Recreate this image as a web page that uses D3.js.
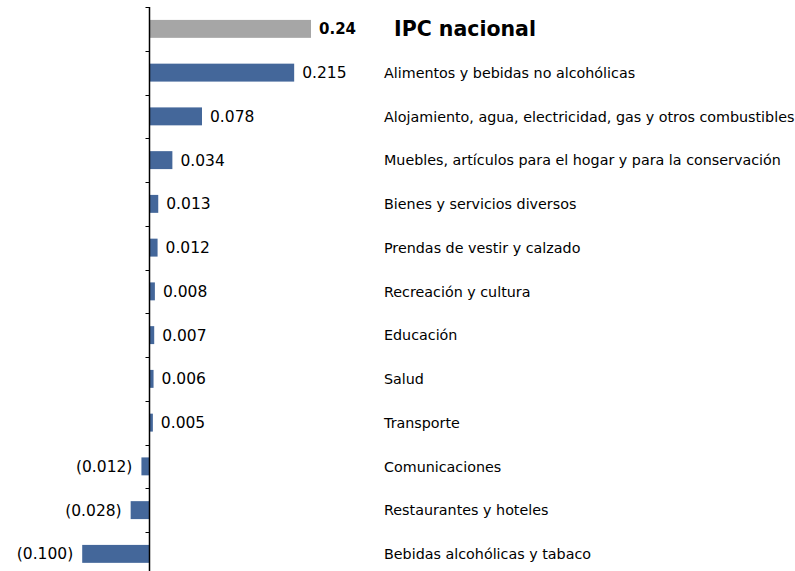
<!DOCTYPE html>
<html>
<head>
<meta charset="utf-8">
<script src="https://cdn.jsdelivr.net/npm/d3@7"></script>
<style>
  html, body { margin: 0; padding: 0; background: #fff; }
  svg { display: block; }
  text { font-family: "DejaVu Sans", Verdana, sans-serif; fill: #000; }
</style>
</head>
<body>
<svg id="chart" width="795" height="571"></svg>
<script>
const categories = [
  "IPC nacional",
  "Alimentos y bebidas no alcohólicas",
  "Alojamiento, agua, electricidad, gas y otros combustibles",
  "Muebles, artículos para el hogar y para la conservación",
  "Bienes y servicios diversos",
  "Prendas de vestir y calzado",
  "Recreación y cultura",
  "Educación",
  "Salud",
  "Transporte",
  "Comunicaciones",
  "Restaurantes y hoteles",
  "Bebidas alcohólicas y tabaco"
];
const values = [0.24, 0.215, 0.078, 0.034, 0.013, 0.012, 0.008, 0.007, 0.006, 0.005, -0.012, -0.028, -0.100];
const valueLabels = ["0.24", "0.215", "0.078", "0.034", "0.013", "0.012", "0.008", "0.007", "0.006", "0.005", "(0.012)", "(0.028)", "(0.100)"];

const svg = d3.select("#chart");
const x = d3.scaleLinear().domain([0, 0.24]).range([149.5, 311]);
const yTop = 7, step = 43.75;
const yb = d3.scaleBand().domain(categories).range([yTop, yTop + step * categories.length]);
const y = d3.scaleBand().domain(categories).range([yTop, yTop + step * categories.length]).paddingInner(0.59).paddingOuter(0.295);

// bars
svg.append("g").selectAll("rect").data(categories).join("rect")
  .attr("x", (d, i) => Math.min(x(0), x(values[i])))
  .attr("y", d => y(d))
  .attr("width", (d, i) => Math.abs(x(values[i]) - x(0)))
  .attr("height", y.bandwidth())
  .attr("fill", (d, i) => i === 0 ? "#a6a6a6" : "#44679a");

// axis with ticks at band boundaries
const axisG = svg.append("g").attr("transform", `translate(${x(0)},0)`);
axisG.append("line").attr("x1", 0).attr("x2", 0).attr("y1", yTop).attr("y2", yTop + step * categories.length)
  .attr("stroke", "#000").attr("stroke-width", 1.5);
axisG.selectAll("line.tick").data(categories).join("line").attr("class", "tick")
  .attr("x1", -4).attr("x2", 0)
  .attr("y1", d => Math.round(yb(d)) + 0.5).attr("y2", d => Math.round(yb(d)) + 0.5)
  .attr("stroke", "#000").attr("stroke-width", 1);

// value labels
svg.append("g").selectAll("text").data(categories).join("text")
  .attr("x", (d, i) => values[i] >= 0 ? x(values[i]) + 8 : x(values[i]) - 9)
  .attr("y", d => yb(d) + yb.bandwidth() / 2)
  .attr("dy", "0.36em")
  .attr("text-anchor", (d, i) => values[i] >= 0 ? "start" : "end")
  .style("font-size", (d, i) => i === 0 ? "15px" : "15.5px")
  .style("font-weight", (d, i) => i === 0 ? "bold" : "normal")
  .text((d, i) => valueLabels[i]);

// category labels
svg.append("g").selectAll("text").data(categories).join("text")
  .attr("x", (d, i) => i === 0 ? 394 : 384)
  .attr("y", d => yb(d) + yb.bandwidth() / 2)
  .attr("dy", "0.36em")
  .style("font-size", (d, i) => i === 0 ? "20.5px" : "14.3px")
  .style("font-weight", (d, i) => i === 0 ? "bold" : "normal")
  .text(d => d);
</script>
</body>
</html>
